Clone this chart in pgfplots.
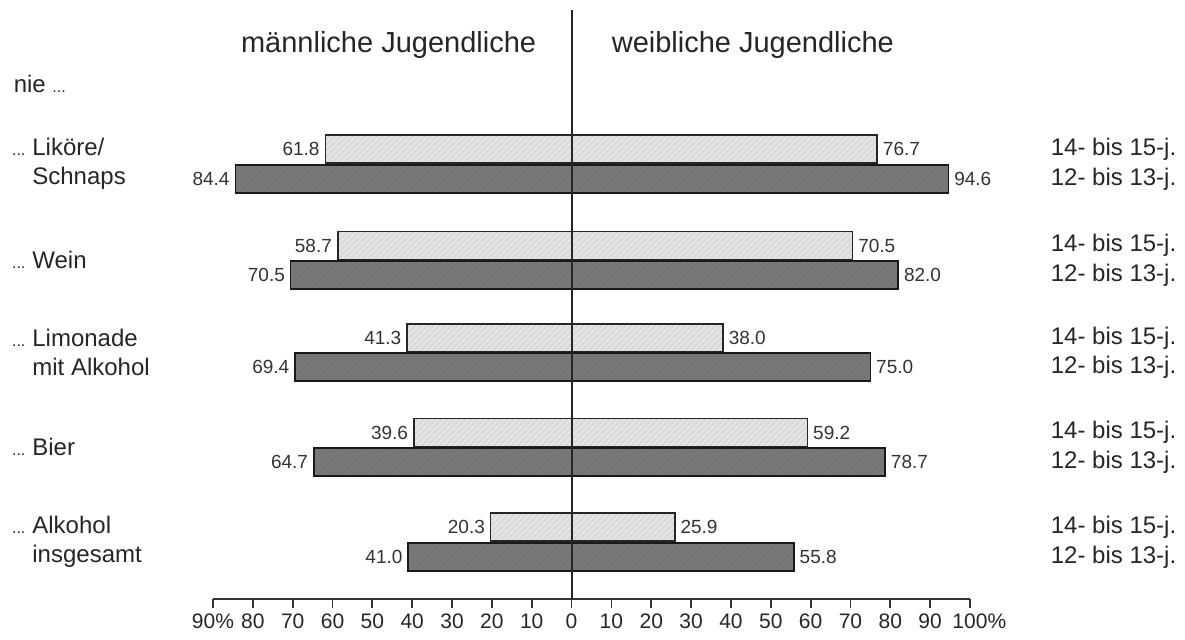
\documentclass[border=0pt]{standalone}
\usepackage{pgfplots}
\pgfplotsset{compat=1.18}
\usepackage{fontspec}
\setmainfont{Liberation Sans}
\usetikzlibrary{patterns}
\definecolor{lightbar}{HTML}{E4E4E4}
\definecolor{darkbar}{HTML}{767676}
\newcommand{\dd}{\llap{\fontsize{8}{8}\selectfont ...\hspace{3.5pt}}}
\tikzset{agel/.style={anchor=west, inner sep=0pt, font=\fontsize{12}{14}\selectfont, text=black!85}}
\begin{document}
\begin{tikzpicture}
\path[use as bounding box] (0,0) rectangle (592.5pt,-319.5pt);
\begin{axis}[
  at={(106.5pt,-299.5pt)}, anchor=south west,
  scale only axis, width=378.5pt, height=294.5pt,
  xmin=-90, xmax=100, ymin=10, ymax=599, y dir=reverse,
  clip=false,
  separate axis lines,
  axis x line*=bottom,
  y axis line style={draw=none},
  x axis line style={line width=0.9pt, black!80},
  xtick={-90,-80,...,100},
  xticklabels={90\%,80,70,60,50,40,30,20,10,0,10,20,30,40,50,60,70,80,90,100\rlap{\%}},
  tick align=outside, major tick length=4.5pt,
  xtick style={line width=0.9pt, black!80},
  xticklabel style={font=\fontsize{10.5}{12.5}\selectfont, text=black!85, yshift=0.5pt},
  ytick={164,260.25,352.5,447.25,542},
  yticklabels={{\dd Liköre/\\Schnaps},{\dd Wein},{\dd Limonade\\mit Alkohol},{\dd Bier},{\dd Alkohol\\insgesamt}},
  ytick style={draw=none},
  yticklabel style={anchor=west, align=left, inner sep=0pt, xshift=-86pt,
    font=\fontsize{12}{14.5}\selectfont, text=black!85},
  /pgf/number format/assume math mode=true,
  xbar, bar width=28, bar shift=0pt,
  point meta=explicit symbolic,
  nodes near coords,
  every node near coord/.append style={font=\fontsize{9.5}{11}\selectfont, text=black!80, inner sep=2.5pt},
]
% maennlich 14-15 (hell)
\addplot[draw=black!85, line width=0.8pt, fill=lightbar,
  postaction={pattern=north east lines, pattern color=black!18},
  nodes near coords style={anchor=east}]
  coordinates {(-61.8,149) [61.8] (-58.7,245.5) [58.7] (-41.3,338) [41.3] (-39.6,432.5) [39.6] (-20.3,527) [20.3]};
% maennlich 12-13 (dunkel)
\addplot[draw=black!90, line width=0.8pt, fill=darkbar,
  postaction={pattern=north east lines, pattern color=black!52},
  nodes near coords style={anchor=east}]
  coordinates {(-84.4,179) [84.4] (-70.5,275) [70.5] (-69.4,367) [69.4] (-64.7,462) [64.7] (-41.0,557) [41.0]};
% weiblich 14-15 (hell)
\addplot[draw=black!85, line width=0.8pt, fill=lightbar,
  postaction={pattern=north east lines, pattern color=black!18},
  nodes near coords style={anchor=west}]
  coordinates {(76.7,149) [76.7] (70.5,245.5) [70.5] (38.0,338) [38.0] (59.2,432.5) [59.2] (25.9,527) [25.9]};
% weiblich 12-13 (dunkel)
\addplot[draw=black!90, line width=0.8pt, fill=darkbar,
  postaction={pattern=north east lines, pattern color=black!52},
  nodes near coords style={anchor=west}]
  coordinates {(94.6,179) [94.6] (82.0,275) [82.0] (75.0,367) [75.0] (78.7,462) [78.7] (55.8,557) [55.8]};
% vertical zero line
\draw[line width=1pt, black!85] (axis cs:0,10) -- (axis cs:0,599);
% headings
\node[anchor=east, inner sep=0pt, font=\fontsize{14.5}{17}\selectfont, text=black!85] at (axis cs:-8.8,45) {männliche Jugendliche};
\node[anchor=west, inner sep=0pt, font=\fontsize{14.5}{17}\selectfont, text=black!85] at (axis cs:10.0,45) {weibliche Jugendliche};
\node[anchor=west, inner sep=0pt, font=\fontsize{12}{14}\selectfont, text=black!85] at (axis cs:-140.1,84) {nie \fontsize{8}{8}\selectfont ...};
% age labels
\node[agel] at (axis cs:120.2,149) {14- bis 15-j.};
\node[agel] at (axis cs:120.2,179) {12- bis 13-j.};
\node[agel] at (axis cs:120.2,245.5) {14- bis 15-j.};
\node[agel] at (axis cs:120.2,275) {12- bis 13-j.};
\node[agel] at (axis cs:120.2,338) {14- bis 15-j.};
\node[agel] at (axis cs:120.2,367) {12- bis 13-j.};
\node[agel] at (axis cs:120.2,432.5) {14- bis 15-j.};
\node[agel] at (axis cs:120.2,462) {12- bis 13-j.};
\node[agel] at (axis cs:120.2,527) {14- bis 15-j.};
\node[agel] at (axis cs:120.2,557) {12- bis 13-j.};
\end{axis}
\end{tikzpicture}
\end{document}
